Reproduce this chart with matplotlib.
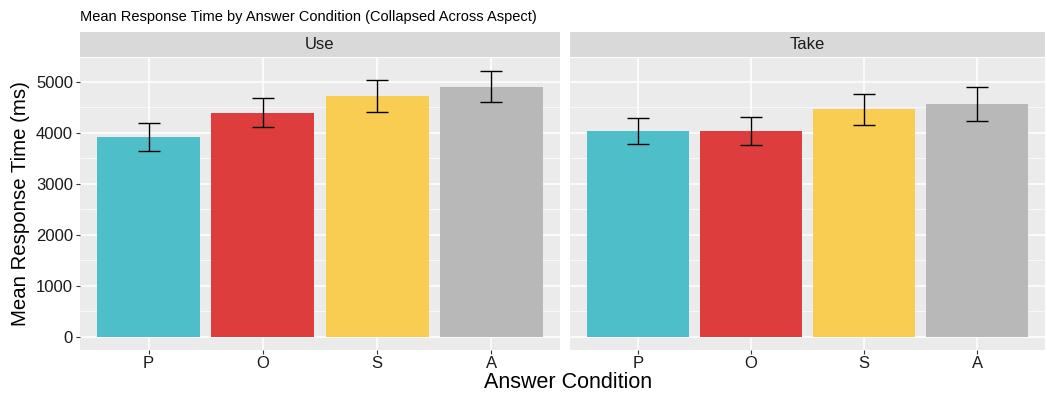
import matplotlib
matplotlib.use("Agg")
import matplotlib.pyplot as plt
import numpy as np

plt.rcParams['font.family'] = ['Liberation Sans', 'DejaVu Sans']

conditions = ["P", "O", "S", "A"]
panels = ["Use", "Take"]
means = {
    "Use": [3925, 4395, 4725, 4905],
    "Take": [4035, 4035, 4465, 4565],
}
lower = {
    "Use": [3650, 4115, 4410, 4605],
    "Take": [3785, 3765, 4155, 4235],
}
upper = {
    "Use": [4200, 4685, 5040, 5215],
    "Take": [4295, 4310, 4765, 4900],
}
colors = ["#4EBFC9", "#DE3D3D", "#F9CD51", "#B8B8B8"]

W, H = 1047, 396
fig = plt.figure(figsize=(W / 100, H / 100), dpi=100)

lefts = [80, 570]
rights = [560, 1045]
ptop, pbot = 58, 350
stop = 32

x = np.arange(1, len(conditions) + 1)
for i, name in enumerate(panels):
    ax = fig.add_axes([lefts[i] / W, 1 - pbot / H,
                       (rights[i] - lefts[i]) / W, (pbot - ptop) / H])
    ax.set_facecolor("#EBEBEB")
    ax.set_xlim(0.4, 4.6)
    ax.set_ylim(-255, 5470)
    ax.set_yticks([0, 1000, 2000, 3000, 4000, 5000])
    ax.set_yticks([500, 1500, 2500, 3500, 4500], minor=True)
    ax.grid(True, which="major", color="white", linewidth=1.1)
    ax.grid(True, which="minor", axis="y", color="white", linewidth=0.5)
    ax.set_axisbelow(True)
    for s in ax.spines.values():
        s.set_visible(False)
    ax.bar(x, means[name], width=0.9, color=colors, zorder=2)
    m = np.array(means[name])
    yerr = [m - np.array(lower[name]), np.array(upper[name]) - m]
    ax.errorbar(x, m, yerr=yerr, fmt="none", ecolor="black",
                elinewidth=1.0, capsize=8, capthick=1.0, zorder=3)
    ax.set_xticks(x)
    ax.set_xticklabels(conditions, fontsize=12, color="#1a1a1a")
    ax.tick_params(axis="x", length=3, color="#333333", pad=1, which="major")
    ax.tick_params(axis="x", which="minor", length=0)
    ax.tick_params(axis="y", which="minor", length=0)
    if i == 0:
        ax.set_yticklabels(["0", "1000", "2000", "3000", "4000", "5000"],
                           fontsize=12, color="#1a1a1a")
        ax.tick_params(axis="y", length=3, color="#333333", pad=2)
        ax.set_ylabel("Mean Response Time (ms)", fontsize=14.7, labelpad=4)
    else:
        ax.tick_params(axis="y", length=0, labelleft=False)

    # facet strip
    sax = fig.add_axes([lefts[i] / W, 1 - (ptop - 1) / H,
                        (rights[i] - lefts[i]) / W, (ptop - 1 - stop) / H])
    sax.set_facecolor("#D9D9D9")
    sax.set_xticks([])
    sax.set_yticks([])
    for s in sax.spines.values():
        s.set_visible(False)
    sax.text(0.5, 0.5, name, ha="center", va="center", fontsize=12,
             color="#1a1a1a", transform=sax.transAxes)

fig.text(80 / W, 1 - 17 / H, "Mean Response Time by Answer Condition (Collapsed Across Aspect)",
         fontsize=10.5, ha="left", va="center")
fig.text(568 / W, 1 - 383 / H, "Answer Condition", fontsize=15.5,
         ha="center", va="center")

fig.savefig("out.png", dpi=100)
